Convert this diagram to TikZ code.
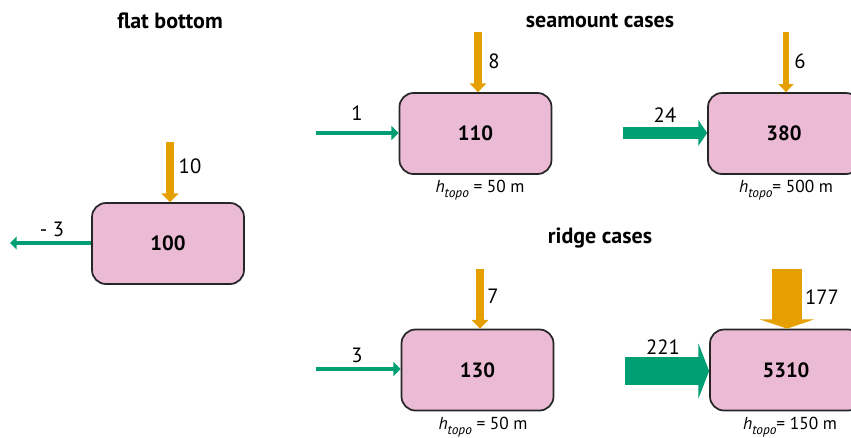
\documentclass[tikz,border=0pt]{standalone}
\usepackage{fontspec}
\setmainfont{PT Sans}
\usetikzlibrary{arrows.meta}
\definecolor{boxpink}{HTML}{EBBAD5}
\definecolor{flowor}{HTML}{E69F00}
\definecolor{flowgr}{HTML}{009E73}
\newcommand{\htopo}[1]{\textit{h}\raisebox{-0.55ex}{\fontsize{10}{11}\selectfont\itshape topo}#1}
\begin{document}
\begin{tikzpicture}[x=0.75pt,y=-0.75pt,
  font=\fontsize{15}{18}\selectfont,
  boxnode/.style={draw=black!85,line width=1.3pt,fill=boxpink,rounded corners=10.5pt,
    minimum width=114pt,minimum height=60.75pt,inner sep=0pt,font=\fontsize{15.5}{18}\selectfont\bfseries},
  title/.style={font=\fontsize{16.5}{19}\selectfont\bfseries},
  lab/.style={font=\fontsize{15.5}{18}\selectfont},
  hlab/.style={font=\fontsize{13}{15}\selectfont},
]
\useasboundingbox (0,0) rectangle (851,437);
\clip (0,0) rectangle (851,437);

% titles
\node[title] (t1) at (170,21) {flat bottom};
\node[title] (t2) at (600,21) {seamount cases};
\node[title] (t3) at (600,238) {ridge cases};

% boxes
\node[boxnode] (A) at (168,243.5) {100};
\node[boxnode] (B) at (475.5,133.5) {110};
\node[boxnode] (C) at (784,133.5) {380};
\node[boxnode] (D) at (477.5,370) {130};
\node[boxnode] (E) at (786,370) {5310};

% arrow start coordinates
\coordinate (oA) at (170,142);
\coordinate (oB) at (478,32);
\coordinate (oC) at (786,32);
\coordinate (oD) at (480,269);
\coordinate (oE) at (787,269);
\coordinate (gA) at (10,243);
\coordinate (gB) at (316,133);
\coordinate (gC) at (623,133);
\coordinate (gD) at (316,369);
\coordinate (gE) at (625,371);

% orange (vertical) arrows
\draw[flowor,line width=6pt,-{Triangle[width=12.5pt,length=6.5pt]}] (oA) -- (oA |- A.north);
\draw[flowor,line width=5.3pt,-{Triangle[width=12pt,length=6.5pt]}] (oB) -- (oB |- B.north);
\draw[flowor,line width=4pt,-{Triangle[width=11pt,length=6pt]}] (oC) -- (oC |- C.north);
\draw[flowor,line width=5.3pt,-{Triangle[width=12pt,length=6.5pt]}] (oD) -- (oD |- D.north);
\draw[flowor,line width=22pt,-{Triangle[width=41pt,length=7pt]}] (oE) -- (oE |- E.north);

% green (horizontal) arrows
\draw[flowgr,line width=3pt,-{Triangle[width=9.5pt,length=5pt]}] (A.west |- gA) -- (gA);
\draw[flowgr,line width=3pt,-{Triangle[width=10.5pt,length=5.5pt]}] (gB) -- (gB -| B.west);
\draw[flowgr,line width=8.5pt,-{Triangle[width=19pt,length=6.5pt]}] (gC) -- (gC -| C.west);
\draw[flowgr,line width=3pt,-{Triangle[width=10.5pt,length=5.5pt]}] (gD) -- (gD -| D.west);
\draw[flowgr,line width=21pt,-{Triangle[width=41pt,length=8pt]}] (gE) -- (gE -| E.west);

% flow labels
\node[lab] (l1) at (190,166) {10};
\node[lab] (l2) at (52,229) {- 3};
\node[lab] (l3) at (357,113) {1};
\node[lab] (l4) at (494,61) {8};
\node[lab] (l5) at (665,115) {24};
\node[lab] (l6) at (800,61) {6};
\node[lab] (l7) at (357,355) {3};
\node[lab] (l8) at (493,296) {7};
\node[lab] (l9) at (663,347) {221};
\node[lab] (l10) at (822,297) {177};

% h_topo labels
\node[hlab] (hB) at (480,190) {\htopo{ = 50 m}};
\node[hlab] (hC) at (786,190) {\htopo{= 500 m}};
\node[hlab] (hD) at (483,427) {\htopo{ = 50 m}};
\node[hlab] (hE) at (790,427) {\htopo{= 150 m}};
\end{tikzpicture}
\end{document}
